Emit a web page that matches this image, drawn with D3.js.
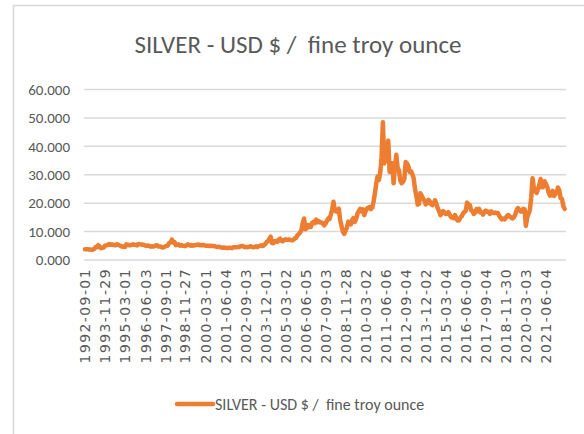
<!DOCTYPE html>
<html>
<head>
<meta charset="utf-8">
<script src="https://cdn.jsdelivr.net/npm/d3@7"></script>
<style>
  html, body { margin: 0; padding: 0; background: #fff; }
  svg { display: block; }
  text { white-space: pre; }
</style>
</head>
<body>
<svg id="chart" width="584" height="434"></svg>
<script>
// monthly silver price (USD / troy oz), starting 1992-09
const firstMonth = "1992-09-01";
const prices1990s = [
  3.75, 3.75, 3.75, 3.70,
  3.68, 3.62, 3.65, 3.95, 4.55, 4.45, 5.20, 4.70, 4.15, 4.35, 4.40, 5.05,
  5.15, 5.30, 5.60, 5.35, 5.45, 5.35, 5.25, 5.20, 5.60, 5.30, 5.10, 4.85,
  4.75, 4.65, 4.55, 5.50, 5.40, 5.20, 5.15, 5.40, 5.50, 5.35, 5.30, 5.15,
  5.65, 5.55, 5.50, 5.35, 5.35, 5.10, 5.05, 5.10, 4.95, 4.70, 4.80, 4.75,
  4.80, 5.20, 5.20, 4.75, 4.75, 4.65, 4.40, 4.50, 4.75, 4.95, 5.10, 6.00,
  6.10, 7.20, 6.20, 6.30, 5.20, 5.35, 5.50, 5.05, 5.25, 5.00, 5.00, 4.85,
  5.15, 5.50, 5.20, 5.05, 5.25, 5.05, 5.20, 5.25, 5.35, 5.45, 5.15, 5.25
];
const prices2000s = [
  5.20, 5.30, 5.05, 5.05, 5.00, 4.95, 5.00, 4.95, 4.90, 4.85, 4.70, 4.60,
  4.70, 4.55, 4.40, 4.35, 4.40, 4.35, 4.25, 4.20, 4.30, 4.30, 4.15, 4.45,
  4.50, 4.45, 4.55, 4.55, 4.70, 4.95, 4.95, 4.60, 4.60, 4.45, 4.55, 4.70,
  4.85, 4.60, 4.50, 4.55, 4.80, 4.55, 4.85, 5.00, 5.20, 4.90, 5.20, 5.65,
  6.35, 6.65, 7.40, 8.20, 5.95, 5.90, 6.60, 6.70, 6.40, 7.20, 7.50, 6.80,
  6.60, 7.00, 7.30, 7.10, 7.10, 7.20, 7.00, 6.90, 7.10, 7.60, 7.75, 8.70,
  9.10, 9.70, 10.50, 13.00, 14.60, 10.80, 11.20, 12.30, 11.60, 11.60, 13.10, 13.40,
  13.00, 14.20, 13.30, 13.70, 13.20, 13.20, 12.90, 12.20, 12.80, 13.70, 14.60, 14.40,
  16.00, 17.80, 20.50, 17.40, 17.10, 16.90, 18.10, 14.00, 12.00, 10.00, 9.20, 10.30,
  11.30, 13.50, 13.00, 12.50, 14.10, 14.70, 13.40, 14.50, 16.50, 17.30, 18.00, 17.10
];
const prices2010s = [
  17.80, 15.80, 17.10, 18.10, 18.40, 18.60, 17.90, 18.40, 20.60, 23.50, 27.00, 29.40,
  28.20, 31.00, 36.00, 48.50, 34.00, 35.50, 39.50, 42.00, 31.00, 32.50, 34.00, 27.00,
  33.00, 37.00, 32.50, 31.50, 28.00, 27.00, 27.50, 28.50, 34.50, 34.00, 33.00, 31.00,
  31.20, 30.20, 28.80, 25.00, 22.80, 19.50, 19.70, 23.50, 22.60, 21.70, 20.80, 19.60,
  19.90, 21.20, 20.70, 19.70, 19.30, 19.90, 21.00, 19.80, 18.20, 17.20, 15.80, 16.30,
  17.20, 16.80, 16.20, 16.30, 16.80, 16.00, 15.00, 14.90, 14.70, 15.80, 14.50, 13.90,
  14.00, 15.00, 15.40, 16.40, 16.90, 17.30, 20.20, 19.60, 19.30, 17.50, 17.20, 16.20,
  16.70, 17.90, 17.20, 18.00, 16.70, 16.80, 16.00, 17.00, 17.40, 17.00, 17.00, 16.20,
  17.10, 16.60, 16.50, 16.70, 16.50, 16.50, 15.60, 14.80, 14.30, 14.60, 14.30, 14.80,
  15.60, 15.80, 15.20, 15.00, 14.60, 15.00, 15.90, 17.40, 18.30, 17.60, 17.10, 17.10
];
const prices2020s = [
  18.00, 17.80, 12.00, 15.10, 16.30, 17.70, 22.00, 28.80, 25.00, 24.20, 23.60, 25.00,
  26.50, 28.50, 25.60, 25.70, 27.70, 26.80, 25.70, 23.80, 22.60, 23.40, 24.30, 22.50,
  23.20, 23.80, 25.50, 24.50, 21.80, 21.50, 19.00, 18.00
];

const tickDates = [
  "1992-09-01", "1993-11-29", "1995-03-01", "1996-06-03", "1997-09-01", "1998-11-27",
  "2000-03-01", "2001-06-04", "2002-09-03", "2003-12-01", "2005-03-02", "2006-06-05",
  "2007-09-03", "2008-11-28", "2010-03-02", "2011-06-06", "2012-09-04", "2013-12-02",
  "2015-03-04", "2016-06-06", "2017-09-04", "2018-11-30", "2020-03-03", "2021-06-04"
];
const yTicks = [0, 10, 20, 30, 40, 50, 60];
const seriesName = "SILVER - USD $ /  fine troy ounce";
const chartTitle = "SILVER - USD $ /  fine troy ounce";

const parse = d3.timeParse("%Y-%m-%d");
const start = parse(firstMonth);
const prices = [].concat(prices1990s, prices2000s, prices2010s, prices2020s);
const data = prices.map((v, i) => ({ date: d3.timeMonth.offset(start, i), value: v }));

const orange = "#ED7D31";
const grid = "#D9D9D9";
const textCol = "#595959";
const calibriLike = "Carlito, Lato, 'Open Sans', sans-serif";

const svg = d3.select("#chart");

// chart frame
svg.append("rect")
  .attr("x", 13.5).attr("y", 5.5)
  .attr("width", 700).attr("height", 600)
  .attr("fill", "#fff")
  .attr("stroke", grid).attr("stroke-width", 1.5);

const x = d3.scaleTime()
  .domain([start, parse("2022-09-01")])
  .range([85, 566]);

const y = d3.scaleLinear()
  .domain([0, 60])
  .range([260, 89.5]);

// title
svg.append("text")
  .attr("x", 298).attr("y", 53)
  .attr("text-anchor", "middle")
  .attr("font-family", calibriLike)
  .attr("font-size", 25)
  .attr("fill", textCol)
  .text(chartTitle);

// gridlines
svg.append("g")
  .selectAll("line")
  .data(yTicks)
  .join("line")
  .attr("x1", 84).attr("x2", 566)
  .attr("y1", d => y(d)).attr("y2", d => y(d))
  .attr("stroke", grid).attr("stroke-width", 1.5);

// y axis labels
const yAxis = d3.axisLeft(y).tickValues(yTicks).tickFormat(d3.format(".3f")).tickSize(0).tickPadding(0);
svg.append("g")
  .attr("transform", "translate(70,0)")
  .call(yAxis)
  .call(g => g.select(".domain").remove())
  .call(g => g.selectAll("text")
    .attr("font-family", calibriLike)
    .attr("font-size", 15)
    .attr("fill", textCol));

// x axis labels (rotated)
const xAxis = d3.axisBottom(x).tickValues(tickDates.map(parse)).tickFormat(d3.timeFormat("%Y-%m-%d")).tickSize(0).tickPadding(0);
svg.append("g")
  .attr("transform", "translate(0,268)")
  .call(xAxis)
  .call(g => g.select(".domain").remove())
  .call(g => g.selectAll("text")
    .attr("font-family", "'DejaVu Sans', sans-serif")
    .attr("font-size", 14)
    .attr("letter-spacing", 1.4)
    .attr("fill", textCol)
    .attr("text-anchor", "end")
    .attr("dy", "0.35em")
    .attr("transform", "rotate(-90)")
    .attr("x", 0).attr("y", 0));

// price line
const line = d3.line()
  .x(d => x(d.date))
  .y(d => y(d.value));

svg.append("path")
  .datum(data)
  .attr("d", line)
  .attr("fill", "none")
  .attr("stroke", orange)
  .attr("stroke-width", 4.5)
  .attr("stroke-linejoin", "round")
  .attr("stroke-linecap", "round");

// legend
svg.append("line")
  .attr("x1", 177).attr("x2", 213)
  .attr("y1", 404).attr("y2", 404)
  .attr("stroke", orange).attr("stroke-width", 4.5)
  .attr("stroke-linecap", "round");

svg.append("text")
  .attr("x", 215).attr("y", 410)
  .attr("font-family", calibriLike)
  .attr("font-size", 16)
  .attr("fill", textCol)
  .text(seriesName);
</script>
</body>
</html>
